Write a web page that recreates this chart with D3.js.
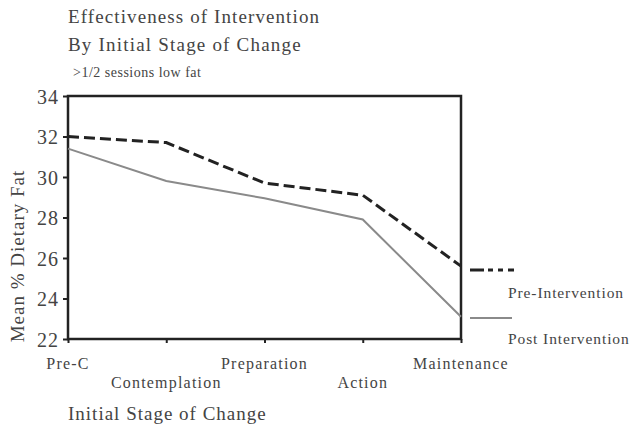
<!DOCTYPE html>
<html><head><meta charset="utf-8">
<script src="https://cdn.jsdelivr.net/npm/d3@7"></script>
<style>body{margin:0;background:#fff}svg{display:block}</style>
</head><body>
<script>
const stages = ["Pre-C","Contemplation","Preparation","Action","Maintenance"];
const preIntervention = [32.0, 31.7, 29.7, 29.1, 25.6];
const postIntervention = [31.4, 29.8, 28.95, 27.9, 23.1];
const yTicks = [22,24,26,28,30,32,34];
const seriesNames = ["Pre-Intervention","Post Intervention"];

const FONT = "'Liberation Serif', 'Times New Roman', serif";
const W=634,H=430, L=68, R=461, T=96, B=339;
const svg=d3.select("body").append("svg").attr("width",W).attr("height",H)
  .attr("font-family",FONT);
const x=d3.scalePoint().domain(stages).range([L,R]).padding(0);
const y=d3.scaleLinear().domain([22,34]).range([B,T]);

function txt(sel,size,ls){
  return sel.attr("font-family",FONT).attr("font-size",size).attr("letter-spacing",ls).attr("fill","#444");
}

// frame
svg.append("rect").attr("x",L).attr("y",T).attr("width",R-L).attr("height",B-T)
  .attr("fill","none").attr("stroke","#222").attr("stroke-width",2.5);

// y axis
const ya=svg.append("g").attr("transform",`translate(${L},0)`)
  .call(d3.axisLeft(y).tickValues(yTicks).tickSize(5).tickPadding(4).tickFormat(d3.format("d")));
ya.attr("font-family",FONT);
ya.select(".domain").remove();
ya.selectAll("line").attr("stroke","#222").attr("stroke-width",2);
txt(ya.selectAll("text"),20,1).attr("dy","0.35em");

// x axis
const xa=svg.append("g").attr("transform",`translate(0,${B})`)
  .call(d3.axisBottom(x).tickSize(4).tickFormat(""));
xa.select(".domain").remove();
xa.selectAll("line").attr("stroke","#222").attr("stroke-width",2);
txt(svg.append("g").selectAll("text").data(stages).join("text")
  .attr("x",d=>x(d)).attr("y",(d,i)=>i%2===0?369:388)
  .attr("text-anchor","middle"),16,1.2).text(d=>d);

const line=d3.line().x((d,i)=>x(stages[i])).y(d=>y(d));
svg.append("path").datum(postIntervention).attr("d",line).attr("fill","none")
  .attr("stroke","#8a8a8a").attr("stroke-width",2);
svg.append("path").datum(preIntervention).attr("d",line).attr("fill","none")
  .attr("stroke","#222").attr("stroke-width",3).attr("stroke-dasharray","11,5");

// legend
svg.append("line").attr("x1",470).attr("x2",514).attr("y1",270).attr("y2",270)
  .attr("stroke","#222").attr("stroke-width",3).attr("stroke-dasharray","14,4,5,5,5,5");
txt(svg.append("text").attr("x",508).attr("y",298),15.5,0.9).text(seriesNames[0]);
svg.append("line").attr("x1",470).attr("x2",512).attr("y1",318).attr("y2",318)
  .attr("stroke","#8a8a8a").attr("stroke-width",2);
txt(svg.append("text").attr("x",508).attr("y",344),15.5,0.9).text(seriesNames[1]);

// titles
txt(svg.append("text").attr("x",68).attr("y",23),19,1.1).text("Effectiveness of Intervention");
txt(svg.append("text").attr("x",68).attr("y",51),19,1.2).text("By Initial Stage of Change");
txt(svg.append("text").attr("x",73).attr("y",77),14,0.5).text(">1/2 sessions low fat");
txt(svg.append("text").attr("x",68).attr("y",420),19,1).text("Initial Stage of Change");
txt(svg.append("text").attr("transform",`translate(24,256) rotate(-90)`)
  .attr("text-anchor","middle"),19,1).text("Mean % Dietary Fat");
</script>
</body></html>
